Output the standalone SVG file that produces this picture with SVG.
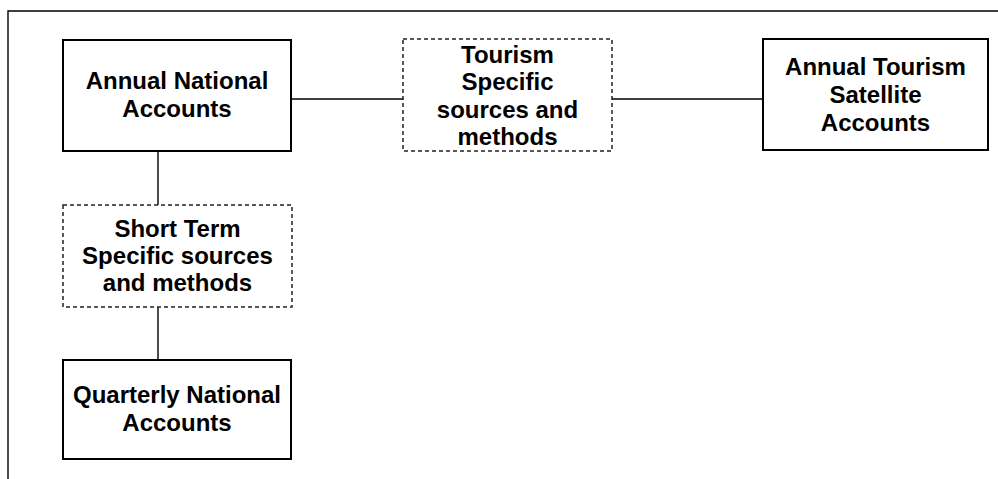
<svg xmlns="http://www.w3.org/2000/svg" width="998" height="479" viewBox="0 0 998 479">
<style>
.box{fill:#fff;stroke:#000;stroke-width:2}
.dash{fill:#fff;stroke:#222;stroke-width:1.5;stroke-dasharray:4 3}
.line{stroke:#000;stroke-width:1.4;fill:none}
text{font-family:"Liberation Sans",Arial,sans-serif;font-weight:bold;font-size:24px;text-anchor:middle;fill:#000}
</style>
<rect width="998" height="479" fill="#fff"/>
<g id="frame">
<path class="line" d="M8,479 V11 H998"/>
</g>
<g id="connectors">
<path class="line" d="M291,99 H403"/>
<path class="line" d="M612,99 H763"/>
<path class="line" d="M158,151 V205"/>
<path class="line" d="M158,307 V360"/>
</g>
<g id="annual-na">
<rect class="box" x="63" y="40" width="228" height="111"/>
<text x="177" y="89">Annual National</text>
<text x="177" y="117">Accounts</text>
</g>
<g id="tourism-sources">
<rect class="dash" x="403" y="39" width="209" height="112"/>
<text x="507.5" y="63">Tourism</text>
<text x="507.5" y="90">Specific</text>
<text x="507.5" y="118">sources and</text>
<text x="507.5" y="145">methods</text>
</g>
<g id="annual-tsa">
<rect class="box" x="763" y="39" width="225" height="111"/>
<text x="875.5" y="75">Annual Tourism</text>
<text x="875.5" y="103">Satellite</text>
<text x="875.5" y="131">Accounts</text>
</g>
<g id="short-term">
<rect class="dash" x="63" y="205" width="229" height="102"/>
<text x="177.5" y="237">Short Term</text>
<text x="177.5" y="264">Specific sources</text>
<text x="177.5" y="291">and methods</text>
</g>
<g id="quarterly-na">
<rect class="box" x="63" y="360" width="228" height="99"/>
<text x="177" y="403">Quarterly National</text>
<text x="177" y="431">Accounts</text>
</g>
</svg>
